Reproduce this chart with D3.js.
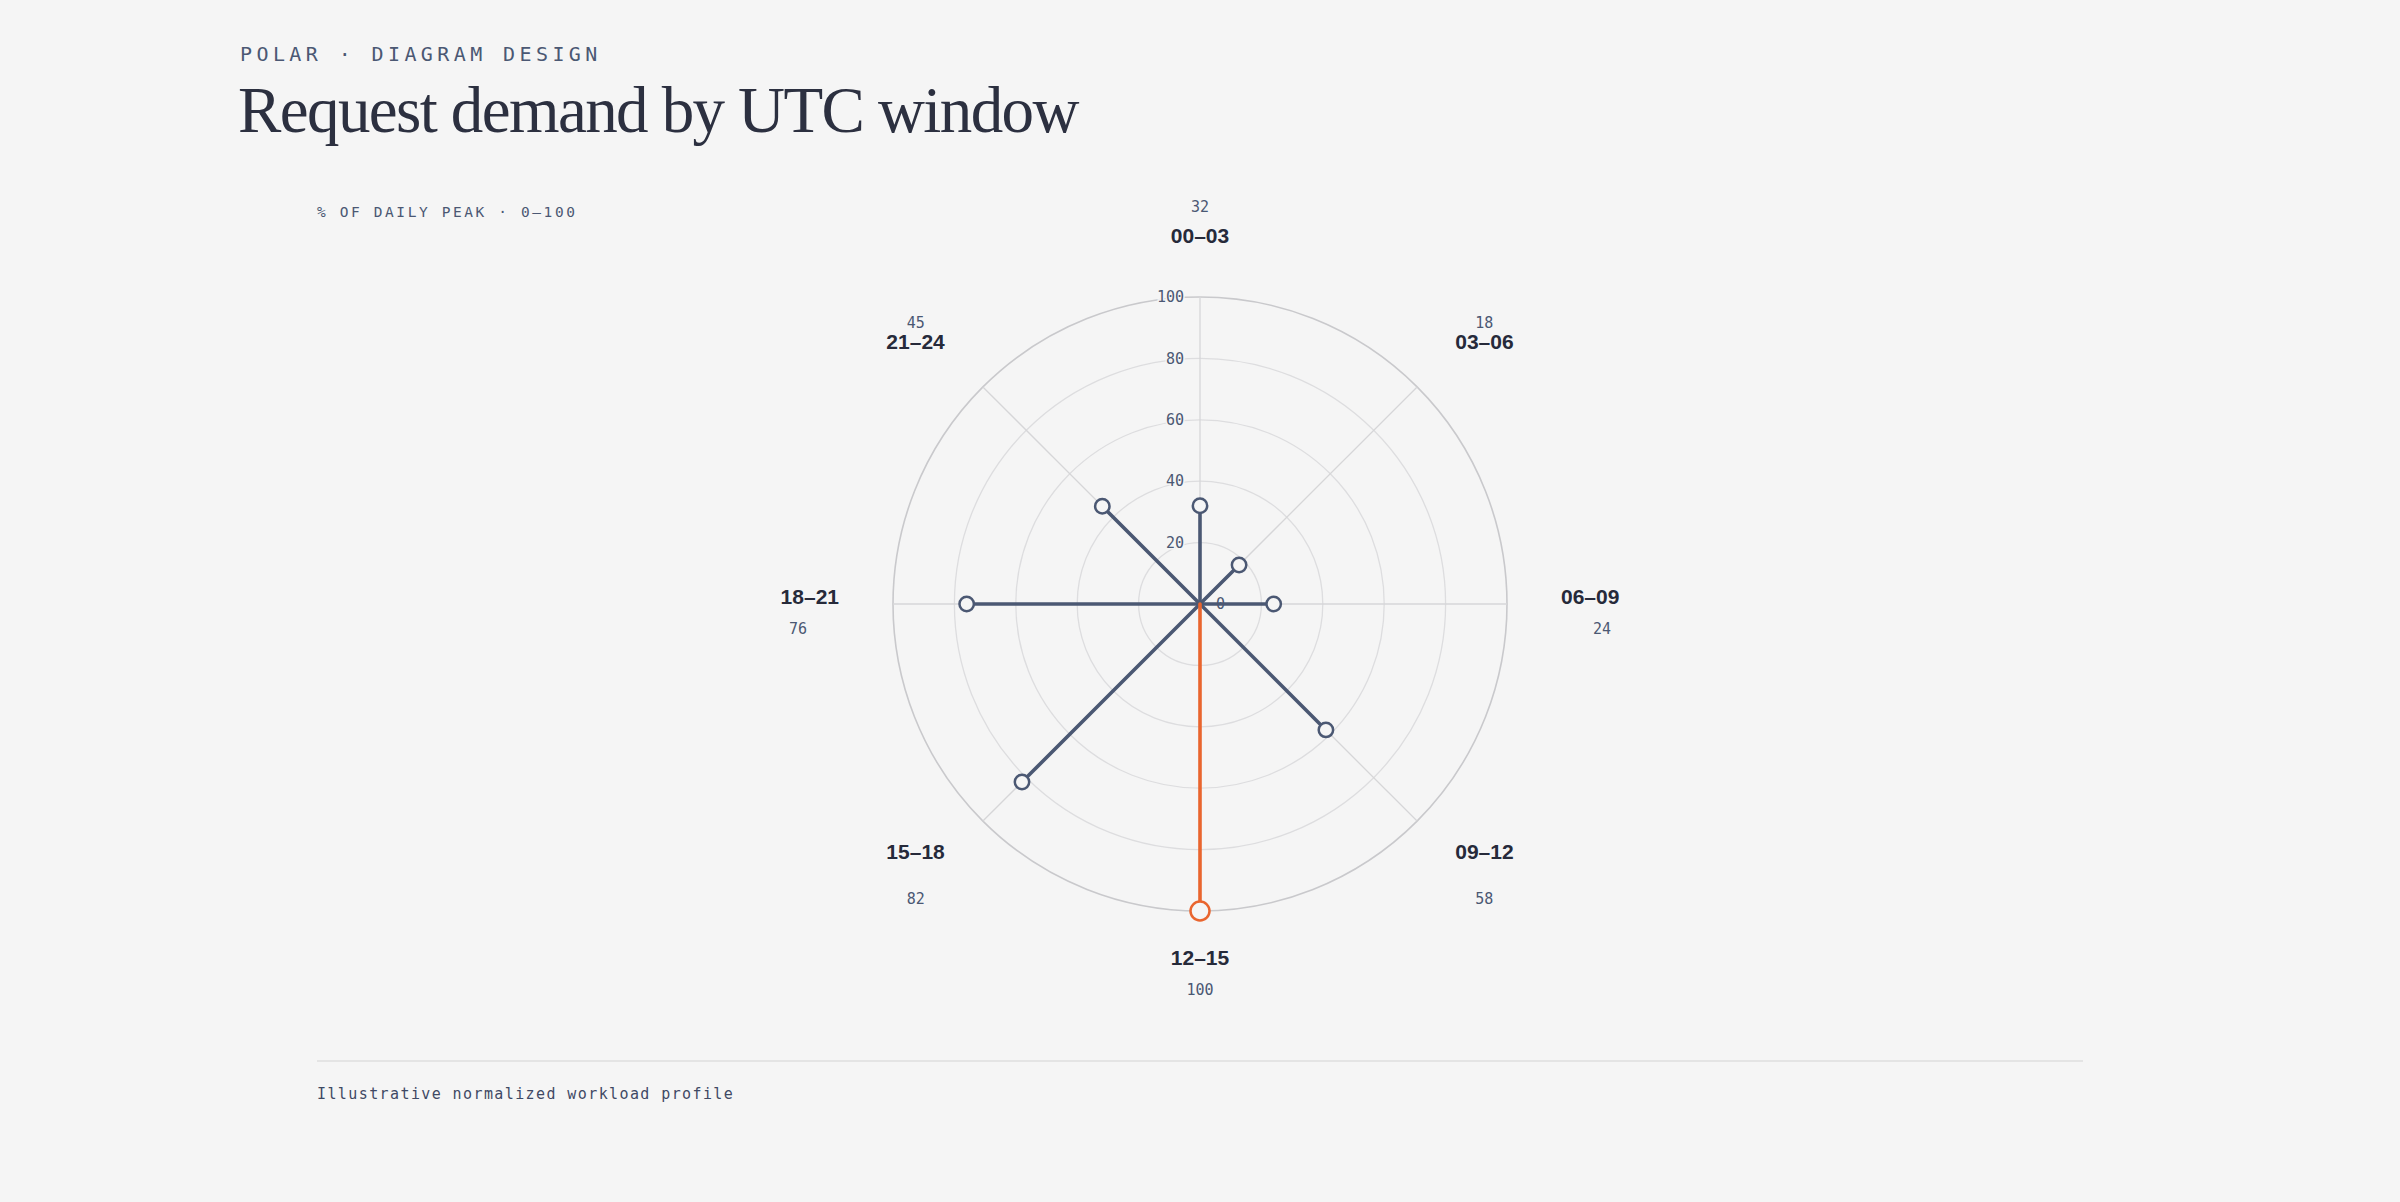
<!DOCTYPE html>
<html>
<head>
<meta charset="utf-8">
<script src="https://cdn.jsdelivr.net/npm/d3@7"></script>
<style>
  html, body { margin: 0; padding: 0; background: #f5f5f5; }
  svg { display: block; }
  .mono { font-family: "DejaVu Sans Mono", "Liberation Mono", monospace; }
</style>
</head>
<body>
<div id="chart"></div>
<script>
// time windows (UTC) and their demand, % of daily peak
var windows = ['00–03', '03–06', '06–09', '09–12', '12–15', '15–18', '18–21', '21–24'];
var demand = [32, 18, 24, 58, 100, 82, 76, 45];
var ringTicks = [0, 20, 40, 60, 80, 100];
var peakWindow = '12–15';

var width = 2400, height = 1202;
var cx = 1200, cy = 604;
var outerR = 307;

var slate = '#4b5873';
var ink = '#262a3a';
var accent = '#e9652e';
var bg = '#f5f5f5';

var svg = d3.select('#chart').append('svg')
	.attr('width', width)
	.attr('height', height);

svg.append('rect').attr('width', width).attr('height', height).attr('fill', bg);

// header
svg.append('text')
	.attr('class', 'mono')
	.attr('x', 240).attr('y', 61)
	.attr('fill', slate)
	.style('font-size', '20px')
	.style('letter-spacing', '4.4px')
	.text('POLAR · DIAGRAM DESIGN');

svg.append('text')
	.attr('x', 238).attr('y', 132)
	.attr('fill', '#2c3040')
	.style('font-family', '"Liberation Serif", "Times New Roman", serif')
	.style('font-size', '65px')
	.style('letter-spacing', '-1.6px')
	.text('Request demand by UTC window');

svg.append('text')
	.attr('class', 'mono')
	.attr('x', 317).attr('y', 217)
	.attr('fill', slate)
	.style('font-size', '14.5px')
	.style('letter-spacing', '2.6px')
	.text('% OF DAILY PEAK · 0–100');

var r = d3.scaleLinear().domain([0, 100]).range([0, outerR]);
var angle = d3.scaleLinear().domain([0, windows.length]).range([0, 2 * Math.PI]);

var g = svg.append('g').attr('transform', 'translate(' + cx + ',' + cy + ')');

// rings
g.selectAll('.ring')
	.data(ringTicks.filter(function(d) { return d > 0; }))
	.enter().append('circle')
	.attr('class', 'ring')
	.attr('r', function(d) { return r(d); })
	.attr('fill', 'none')
	.attr('stroke', function(d) { return d === 100 ? '#c9c9cc' : '#dddddf'; })
	.attr('stroke-width', function(d) { return d === 100 ? 1.6 : 1.3; });

// spokes
g.selectAll('.spoke')
	.data(windows)
	.enter().append('line')
	.attr('class', 'spoke')
	.attr('x1', 0).attr('y1', 0)
	.attr('x2', function(d, i) { return d3.pointRadial(angle(i), r(100))[0]; })
	.attr('y2', function(d, i) { return d3.pointRadial(angle(i), r(100))[1]; })
	.attr('stroke', '#d6d6d8')
	.attr('stroke-width', 1.3);

// ring labels
g.selectAll('.tick')
	.data(ringTicks)
	.enter().append('text')
	.attr('class', 'mono tick')
	.attr('x', function(d) { return d === 0 ? 16 : -16; })
	.attr('y', function(d) { return -r(d); })
	.attr('dy', '0.35em')
	.attr('text-anchor', function(d) { return d === 0 ? 'start' : 'end'; })
	.attr('fill', slate)
	.attr('stroke', bg)
	.attr('stroke-width', 3)
	.attr('paint-order', 'stroke')
	.style('font-size', '15px')
	.text(function(d) { return d; });

var rows = windows.map(function(w, i) {
	return { name: w, value: demand[i], a: angle(i), peak: w === peakWindow };
});
rows.sort(function(a, b) { return a.peak - b.peak; });

// stems
g.selectAll('.stem')
	.data(rows)
	.enter().append('line')
	.attr('class', 'stem')
	.attr('x1', 0).attr('y1', 0)
	.attr('x2', function(d) { return d3.pointRadial(d.a, r(d.value))[0]; })
	.attr('y2', function(d) { return d3.pointRadial(d.a, r(d.value))[1]; })
	.attr('stroke', function(d) { return d.peak ? accent : slate; })
	.attr('stroke-width', 3.6)
	.attr('stroke-linecap', 'round');

// end markers
g.selectAll('.dot')
	.data(rows)
	.enter().append('circle')
	.attr('class', 'dot')
	.attr('cx', function(d) { return d3.pointRadial(d.a, r(d.value))[0]; })
	.attr('cy', function(d) { return d3.pointRadial(d.a, r(d.value))[1]; })
	.attr('r', function(d) { return d.peak ? 9.5 : 7.2; })
	.attr('fill', bg)
	.attr('stroke', function(d) { return d.peak ? accent : slate; })
	.attr('stroke-width', 2.5);

// window labels around the outside
var labelR = 361, valueR = 402;

function anchorFor(a) {
	var s = Math.sin(a);
	return s > 0.1 ? 'start' : (s < -0.1 ? 'end' : 'middle');
}

function valueShift(a) {
	var c = Math.cos(a);
	if (c > 0.9) return -31;
	if (c > 0.1) return -21;
	if (c > -0.1) return 30;
	if (c < -0.9) return 30;
	return 45;
}

var lab = g.selectAll('.lab')
	.data(windows.map(function(w, i) { return { name: w, value: demand[i], a: angle(i) }; }))
	.enter().append('g')
	.attr('class', 'lab');

lab.append('text')
	.attr('x', function(d) { return d3.pointRadial(d.a, labelR)[0]; })
	.attr('y', function(d) { return d3.pointRadial(d.a, labelR)[1]; })
	.attr('text-anchor', function(d) { return anchorFor(d.a); })
	.attr('fill', ink)
	.style('font-family', '"Liberation Sans", Arial, Helvetica, sans-serif')
	.style('font-weight', 'bold')
	.style('font-size', '21px')
	.text(function(d) { return d.name; });

lab.append('text')
	.attr('class', 'mono')
	.attr('x', function(d) { return d3.pointRadial(d.a, valueR)[0]; })
	.attr('y', function(d) { return d3.pointRadial(d.a, labelR)[1] + valueShift(d.a); })
	.attr('text-anchor', 'middle')
	.attr('fill', slate)
	.style('font-size', '15px')
	.text(function(d) { return d.value; });

// footer
svg.append('line')
	.attr('x1', 317).attr('x2', 2083)
	.attr('y1', 1061).attr('y2', 1061)
	.attr('stroke', '#dedede')
	.attr('stroke-width', 1.5);

svg.append('text')
	.attr('class', 'mono')
	.attr('x', 317).attr('y', 1099)
	.attr('fill', '#3f4964')
	.style('font-size', '15px')
	.style('letter-spacing', '1.4px')
	.text('Illustrative normalized workload profile');
</script>
</body>
</html>
